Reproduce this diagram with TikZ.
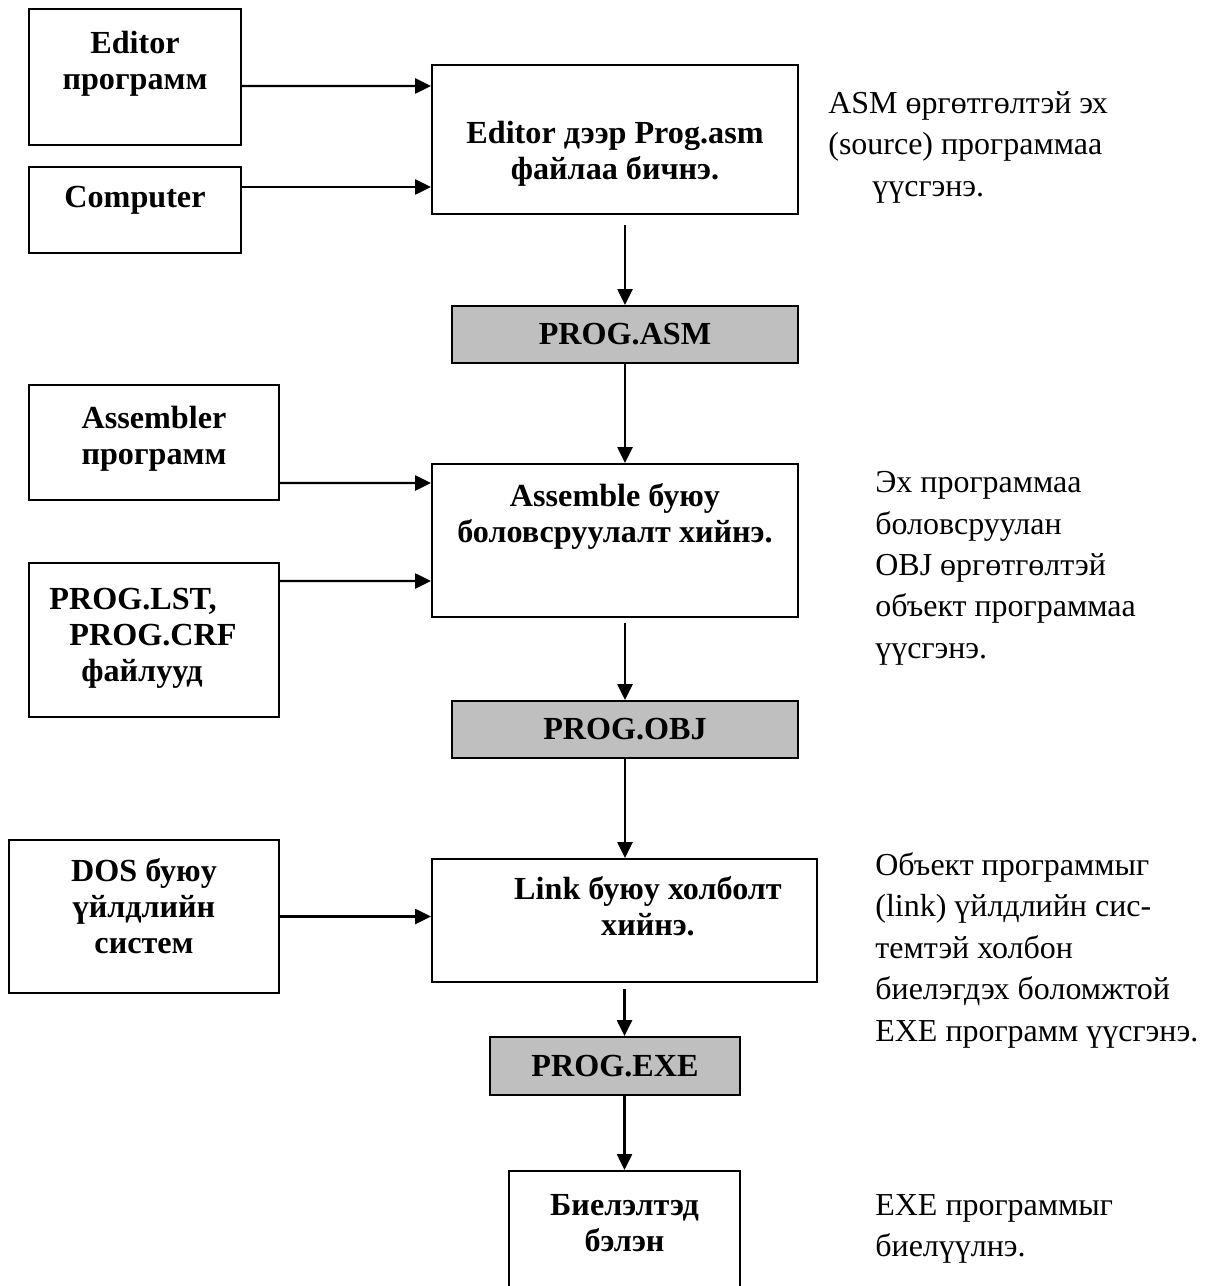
\documentclass[tikz,border=0pt]{standalone}
\usepackage{fontspec}
\setmainfont{Liberation Serif}
\usetikzlibrary{arrows.meta,positioning}

\begin{document}
\begin{tikzpicture}[
    box/.style={draw, line width=1.1pt, inner sep=0pt},
    file/.style={box, fill=black!25, font=\fontsize{18.3pt}{20.5pt}\selectfont\bfseries},
    boxtxt/.style={align=center, inner sep=0pt, font=\fontsize{18.3pt}{20.5pt}\selectfont\bfseries},
    note/.style={align=left, inner sep=0pt, anchor=north west, font=\fontsize{18.2pt}{23.6pt}\selectfont},
    flow/.style={->, line width=1.2pt},
    >={Triangle[length=9pt,width=8.5pt]}]
\useasboundingbox (0,0) rectangle (24.14,-25.72);

% left column: tools and inputs
    \node[box, minimum width=4.24cm, minimum height=2.72cm] (editprog) at (2.70,-1.54) {};
    \node[box, minimum width=4.24cm, minimum height=1.72cm] (computer) at (2.70,-4.20) {};
    \node[box, minimum width=5.00cm, minimum height=2.30cm] (assembler) at (3.08,-8.85) {};
    \node[box, minimum width=5.00cm, minimum height=3.08cm] (lst) at (3.08,-12.80) {};
    \node[box, minimum width=5.40cm, minimum height=3.06cm] (dos) at (2.88,-18.33) {};

    \node[boxtxt, below=0.46cm of editprog.north] (editprog-t) {Editor\\программ};
    \node[boxtxt, below=0.40cm of computer.north] (computer-t) {Computer};
    \node[boxtxt, below=0.44cm of assembler.north] (assembler-t) {Assembler\\программ};
    \node[boxtxt, align=left, below right=0.52cm and 0.42cm of lst.north west] (lst-t)
        {PROG.LST,\\\hspace*{0.4cm}PROG.CRF\\\hspace*{0.64cm}файлууд};
    \node[boxtxt, below=0.38cm of dos.north] (dos-t) {DOS буюу\\үйлдлийн\\систем};

% middle column: steps and files
    \node[box, minimum width=7.32cm, minimum height=2.98cm] (write) at (12.30,-2.79) {};
    \node[file, minimum width=6.92cm, minimum height=1.14cm] (asm) at (12.50,-6.69) {PROG.ASM};
    \node[box, minimum width=7.32cm, minimum height=3.06cm] (assemble) at (12.30,-10.81) {};
    \node[file, minimum width=6.92cm, minimum height=1.14cm] (obj) at (12.50,-14.59) {PROG.OBJ};
    \node[box, minimum width=7.70cm, minimum height=2.46cm] (link) at (12.49,-18.41) {};
    \node[file, minimum width=5.00cm, minimum height=1.16cm] (exe) at (12.30,-21.32) {PROG.EXE};
    \node[box, minimum width=4.62cm, minimum height=3cm, anchor=north] (ready) at (12.49,-23.40) {};

    \node[boxtxt, below=1.14cm of write.north] (write-t) {Editor дээр Prog.asm\\файлаа бичнэ.};
    \node[boxtxt, below=0.40cm of assemble.north] (assemble-t) {Assemble буюу\\боловсруулалт хийнэ.};
    \node[boxtxt, below=0.36cm of link.north, xshift=0.47cm] (link-t) {Link буюу холболт\\хийнэ.};
    \node[boxtxt, below=0.48cm of ready.north] (ready-t) {Биелэлтэд\\бэлэн};

% right column: notes
    \node[note] (note-asm) at (16.56,-1.82) {ASM өргөтгөлтэй эх\\(source) программаа\\\hspace*{0.88cm}үүсгэнэ.};
    \node[note] (note-obj) at (17.50,-9.42) {Эх программаа\\боловсруулан\\OBJ өргөтгөлтэй\\объект программаа\\үүсгэнэ.};
    \node[note] (note-link) at (17.50,-17.04) {Объект программыг\\(link) үйлдлийн сис-\\темтэй холбон\\биелэгдэх боломжтой\\EXE программ үүсгэнэ.};
    \node[note] (note-exe) at (17.50,-23.88) {EXE программыг\\биелүүлнэ.};

    % arrows
    \draw[flow] ([yshift=-0.18cm]editprog.east) -- ([yshift=1.07cm]write.west);
    \draw[flow] ([yshift=0.46cm]computer.east) -- ([yshift=-0.95cm]write.west);
    \draw[flow, shorten <=0.2cm] ([xshift=0.2cm]write.south) -- (asm.north);
    \draw[flow] (asm.south) -- (asm.south |- assemble.north);
    \draw[flow] ([yshift=-0.81cm]assembler.east) -- ([yshift=1.15cm]assemble.west);
    \draw[flow] ([yshift=1.18cm]lst.east) -- ([yshift=-0.81cm]assemble.west);
    \draw[flow, shorten <=0.1cm] ([xshift=0.2cm]assemble.south) -- (obj.north);
    \draw[flow] (obj.south) -- (obj.south |- link.north);
    \draw[flow] (dos.east) -- (dos.east -| link.west);
    \draw[flow, shorten <=0.12cm] (link.south) -- (link.south |- exe.north);
    \draw[flow] (ready.north |- exe.south) -- (ready.north);
\end{tikzpicture}
\end{document}
